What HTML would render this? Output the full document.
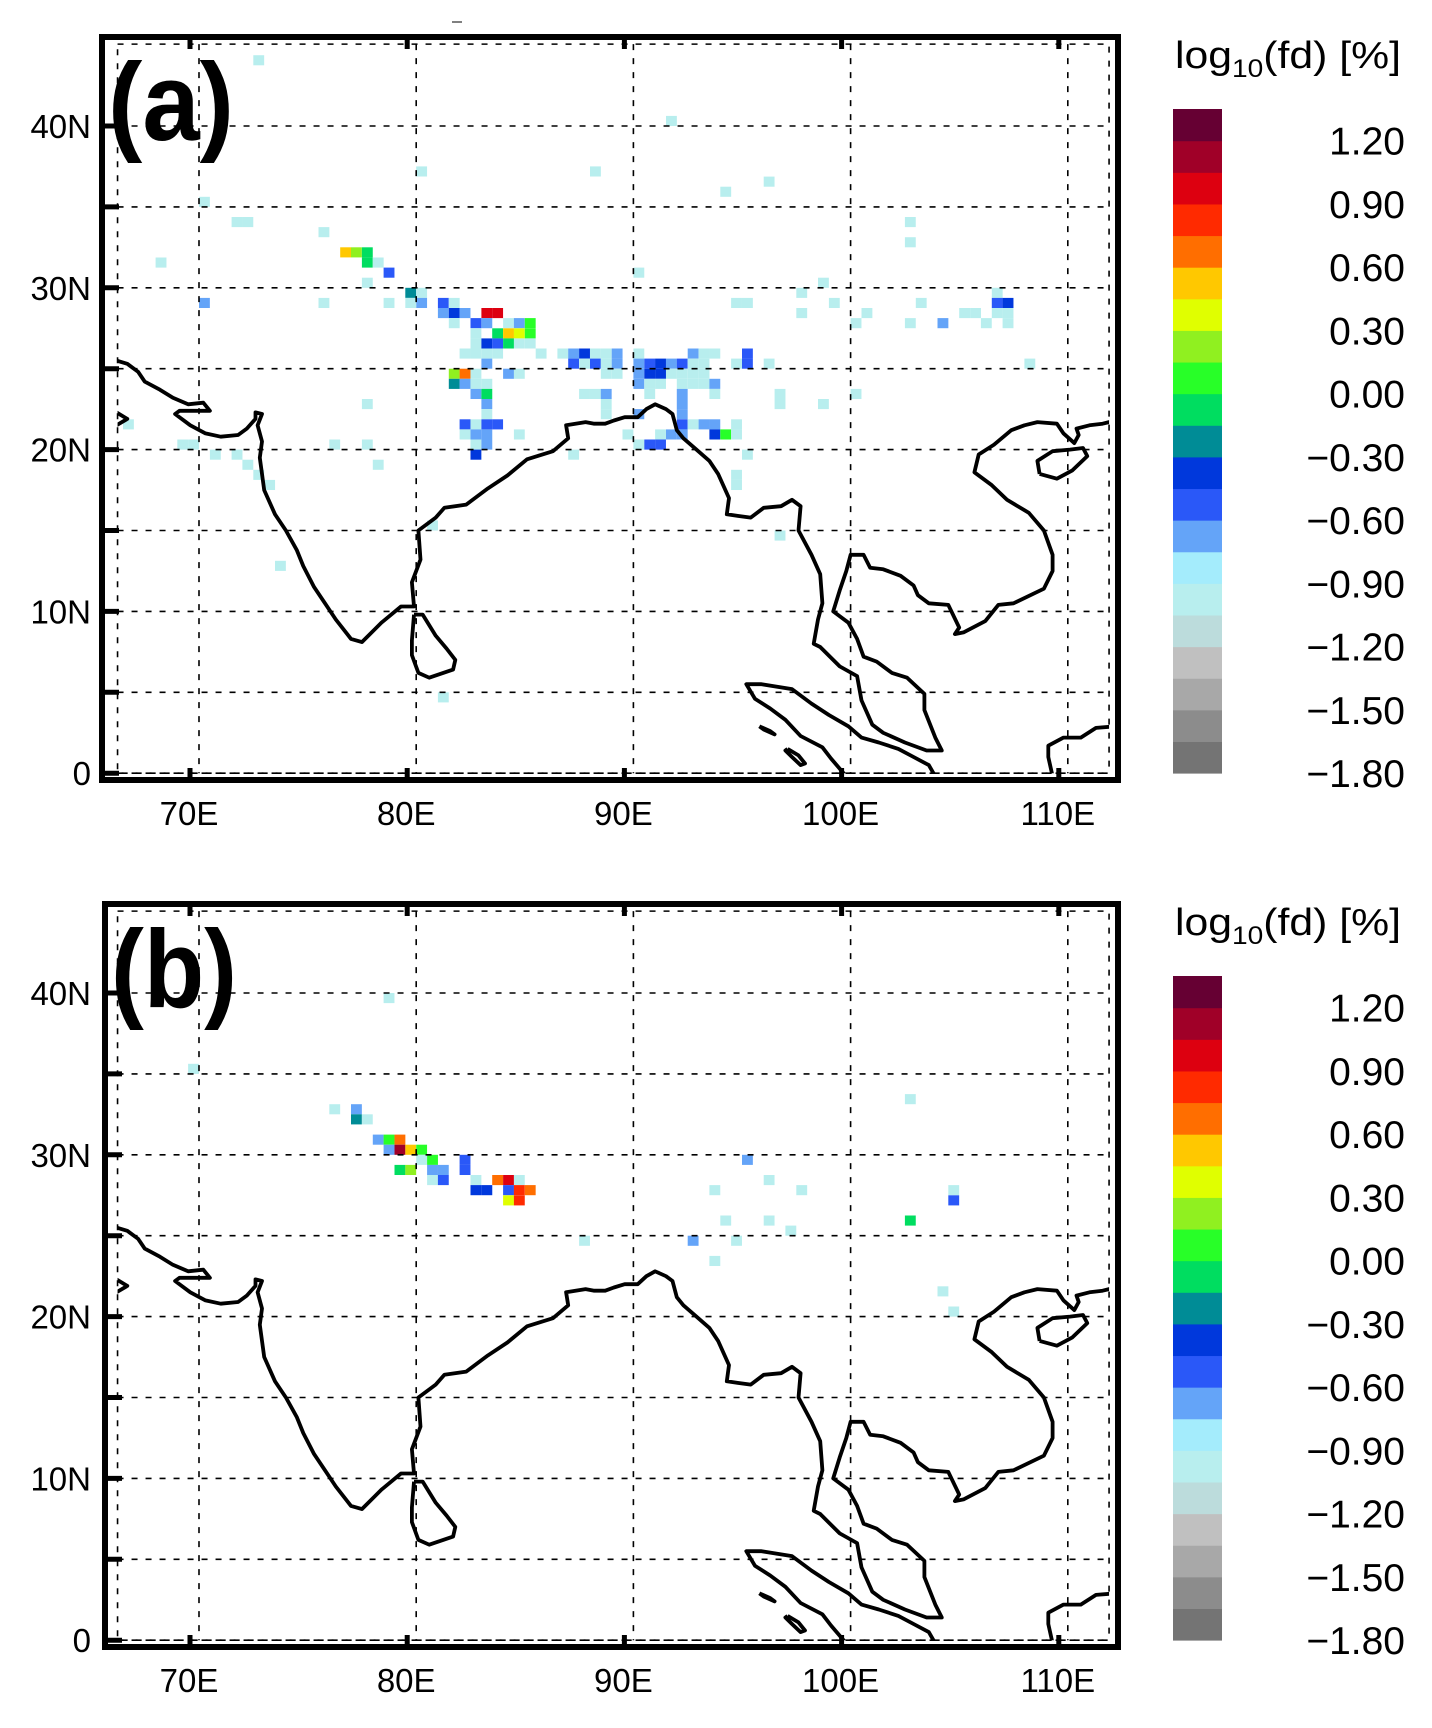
<!DOCTYPE html>
<html><head><meta charset="utf-8"><style>
html,body{margin:0;padding:0;background:#fff;}
svg{display:block;}
text{font-family:"Liberation Sans",sans-serif;fill:#000;}
</style></head><body>
<svg id="fig" width="1432" height="1728" viewBox="0 0 1432 1728" xmlns="http://www.w3.org/2000/svg">
<rect x="0" y="0" width="1432" height="1728" fill="#fff"/>
<line x1="452" y1="22" x2="462" y2="22" stroke="#555" stroke-width="1.5"/>
</svg>
<script>
// colour scale: bin lower bounds from -1.80 step 0.15, 21 bins (bottom -> top)
const binColors = ["#747474","#8c8c8c","#a8a8a8","#c0c0c0","#bcdcdc","#b8eeee","#a4ecfc","#64a4f8","#2a58f8","#0038dc","#008c96","#00dd60","#28ff28","#90f020","#e0ff00","#ffc800","#ff6e00","#ff2a00","#dd0010","#a00028","#660033"];
const cbTickLabels = ["1.20","0.90","0.60","0.30","0.00","\u22120.30","\u22120.60","\u22120.90","\u22121.20","\u22121.50","\u22121.80"];
const lonTicks = [70,80,90,100,110];
const lonTickLabels = ["70E","80E","90E","100E","110E"];
const latTicks = [0,10,20,30,40];
const latTickLabels = ["0","10N","20N","30N","40N"];

// panel (a) cells: lower-left lon, lower-left lat, log10(fd)
const aLon = [72.5,80,91.5,88,94,96,70,71.5,72,75.5,68,76.5,77,77.5,77.5,78,78.5,77.5,79.5,80,80,79.5,78.5,75.5,70,90,94.5,95,77.5,66.5,69,69.5,70.5,71.5,72,72.5,73,76,77.5,78,73.5,80.5,81,96.5,94.5,95,87,
81,81.5,81,81.5,82,83,83.5,81.5,82.5,83,84,84.5,85,82.5,83.5,84,84.5,85,82.5,83,83.5,84,84.5,85,82,82.5,83,83.5,85.5,86.5,87,87.5,88,88.5,89,90,92.5,93,93.5,95,
83,87,87.5,88,88.5,89,90,90.5,91,91.5,92,92.5,93,94.5,95,96,81.5,82,82.5,84,84.5,88.5,89,90,90.5,91,91.5,92,92.5,93,81.5,82,82.5,83,90,90.5,91,92,92.5,93,93.5,
82.5,83,87.5,88,88.5,90.5,92,93.5,83,88.5,92,83,88.5,90,92,82,82.5,83,83.5,92,92.5,93,93.5,94.5,82,82.5,83,84.5,89.5,91,91.5,92,93.5,94,94.5,82.5,83,90,90.5,91,82.5,96.5,96.5,98.5,94.5,
102.5,102.5,98.5,97.5,99,97.5,100,100.5,102.5,103,104,105,105.5,106,106.5,106.5,107,106.5,107,107,108,100];
const aLat = [43.75,36.875,40,36.875,35.625,36.25,35,33.75,33.75,33.125,31.25,31.875,31.875,31.875,31.25,31.25,30.625,30,29.375,29.375,28.75,28.75,28.75,28.75,28.75,30.625,28.75,28.75,22.5,21.25,20,20,19.375,19.375,18.75,18.125,17.5,20,20,18.75,12.5,15,4.375,14.375,18.125,19.375,19.375,
28.75,28.75,28.125,28.125,28.125,28.125,28.125,27.5,27.5,27.5,27.5,27.5,27.5,26.875,26.875,26.875,26.875,26.875,26.25,26.25,26.25,26.25,26.25,26.25,25.625,25.625,25.625,25.625,25.625,25.625,25.625,25.625,25.625,25.625,25.625,25.625,25.625,25.625,25.625,25.625,
25,25,25,25,25,25,25,25,25,25,25,25,25,25,25,25,24.375,24.375,24.375,24.375,24.375,24.375,24.375,24.375,24.375,24.375,24.375,24.375,24.375,24.375,23.75,23.75,23.75,23.75,23.75,23.75,23.75,23.75,23.75,23.75,23.75,
23.125,23.125,23.125,23.125,23.125,23.125,23.125,23.125,22.5,22.5,22.5,21.875,21.875,21.875,21.875,21.25,21.25,21.25,21.25,21.25,21.25,21.25,21.25,21.25,20.625,20.625,20.625,20.625,20.625,20.625,20.625,20.625,20.625,20.625,20.625,20,20,20,20,20,19.375,22.5,23.125,22.5,17.5,
33.75,32.5,30,29.375,28.75,28.125,27.5,28.125,27.5,28.75,27.5,28.125,28.125,27.5,29.375,28.75,28.75,28.125,28.125,27.5,25,23.125];
const aVal = [-0.975,-0.975,-0.975,-0.975,-0.975,-0.975,-0.975,-0.975,-0.975,-0.975,-0.975,0.525,0.225,-0.075,-0.075,-0.975,-0.525,-0.975,-0.225,-0.975,-0.675,-0.975,-0.975,-0.975,-0.675,-0.975,-0.975,-0.975,-0.975,-0.975,-0.975,-0.975,-0.975,-0.975,-0.975,-0.975,-0.975,-0.975,-0.975,-0.975,-0.975,-0.975,-0.975,-0.975,-0.975,-0.975,-0.975,
-0.525,-0.975,-0.675,-0.375,-0.675,0.975,0.975,-0.975,-0.525,-0.675,-0.975,-0.675,0.075,-0.975,-0.075,0.525,0.375,0.075,-0.975,-0.375,-0.525,-0.075,-0.975,-0.975,-0.975,-0.975,-0.975,-0.975,-0.975,-0.975,-0.675,-0.375,-0.975,-0.975,-0.675,-0.975,-0.675,-0.975,-0.975,-0.525,
-0.675,-0.525,-0.975,-0.525,-0.975,-0.675,-0.675,-0.525,-0.375,-0.675,-0.525,-0.975,-0.975,-0.975,-0.525,-0.975,0.225,0.675,-0.975,-0.675,-0.975,-0.975,-0.975,-0.675,-0.375,-0.375,-0.975,-0.975,-0.975,-0.975,-0.225,-0.675,-0.975,-0.975,-0.675,-0.975,-0.975,-0.975,-0.975,-0.975,-0.675,
-0.675,-0.075,-0.975,-0.975,-0.675,-0.975,-0.675,-0.975,-0.675,-0.975,-0.675,-0.975,-0.975,-0.675,-0.675,-0.525,-0.975,-0.525,-0.525,-0.525,-0.975,-0.675,-0.675,-0.975,-0.975,-0.675,-0.675,-0.975,-0.975,-0.975,-0.675,-0.675,-0.375,0.075,-0.975,-0.975,-0.675,-0.975,-0.525,-0.525,-0.375,-0.975,-0.975,-0.975,-0.975,
-0.975,-0.975,-0.975,-0.975,-0.975,-0.975,-0.975,-0.975,-0.975,-0.975,-0.675,-0.975,-0.975,-0.975,-0.975,-0.525,-0.375,-0.975,-0.975,-0.975,-0.975,-0.975];

// panel (b) cells
const bLon = [78.5,69.5,76,77,77,77.5,78,78.5,79,78.5,79,79.5,80,80,80.5,82,79,79.5,80.5,81,82,80.5,81,82.5,83.5,84,84.5,82.5,83,84,84.5,85,84,84.5,87.5,102.5,95,96,93.5,97.5,94,96,97,92.5,94.5,93.5,102.5,104.5,104.5,104,104.5];
const bLat = [39.375,35,32.5,32.5,31.875,31.875,30.625,30.625,30.625,30,30,30,30,29.375,29.375,29.375,28.75,28.75,28.75,28.75,28.75,28.125,28.125,28.125,28.125,28.125,28.125,27.5,27.5,27.5,27.5,27.5,26.875,26.875,24.375,33.125,29.375,28.125,27.5,27.5,25.625,25.625,25,24.375,24.375,23.125,25.625,27.5,26.875,21.25,20];
const bVal = [-0.975,-0.975,-0.975,-0.675,-0.225,-0.975,-0.675,0.075,0.675,-0.675,1.125,0.525,0.075,-0.975,0.075,-0.525,-0.075,0.225,-0.675,-0.675,-0.525,-0.975,-0.525,-0.975,0.675,0.975,-0.975,-0.375,-0.375,-0.525,0.825,0.675,0.375,0.825,-0.975,-0.975,-0.675,-0.975,-0.975,-0.975,-0.975,-0.975,-0.975,-0.675,-0.975,-0.975,-0.075,-0.975,-0.525,-0.975,-0.975];

// coastlines (lon,lat)
const coastMain = [[66.2,25.5],[66.7,25.3],[67.2,24.8],[67.5,24.2],[68.2,23.7],[68.8,23.2],[69.5,22.8],[70.2,22.9],[70.5,22.4],[69.8,22.4],[69.1,22.4],[68.9,22.2],[69.6,21.5],[70.3,21],[71,20.8],[71.8,20.9],[72.2,21.3],[72.6,21.9],[72.6,22.3],[72.9,22.2],[72.7,21.5],[72.9,20.5],[72.8,19.5],[73,17.5],[73.5,16],[74,15],[74.5,13.8],[74.8,12.8],[75.3,11.5],[75.8,10.5],[76.3,9.5],[77,8.3],[77.5,8.1],[78.1,8.9],[78.4,9.3],[79.3,10.3],[79.9,10.3],[79.8,11.8],[80.2,13.2],[80.1,15],[80.9,15.8],[81.3,16.4],[82.3,16.6],[83.3,17.6],[84.2,18.4],[85.1,19.4],[86.3,19.9],[87,20.7],[86.9,21.5],[87.8,21.7],[88.2,21.6],[88.7,21.6],[89.1,21.8],[89.6,22],[90.2,22],[90.6,22.5],[91,22.8],[91.5,22.5],[91.8,22.2],[92,21.2],[92.3,20.7],[92.9,20],[93.5,19.3],[93.9,18.5],[94.4,17],[94.3,16],[94.8,15.9],[95.4,15.8],[96,16.4],[96.8,16.5],[97.3,16.9],[97.7,16.5],[97.6,15],[98.2,13.5],[98.6,12.3],[98.7,10.5],[98.5,9.5],[98.3,8],[98.6,7.8],[99.5,6.6],[100.3,6],[100.5,4.5],[101,3],[101.5,2.5],[102.5,1.9],[103.5,1.4],[104.2,1.4],[103.9,2.2],[103.4,3.9],[103.4,4.9],[102.6,5.9],[101.9,6.2],[101.2,6.9],[100.6,7.2],[100.3,8.3],[99.9,9.3],[99.2,10],[99.5,11.3],[99.8,12.5],[100,13.5],[100.6,13.5],[100.9,12.7],[101.5,12.6],[102.3,12.2],[102.9,11.6],[103.1,11],[103.6,10.5],[104.5,10.4],[105,9],[104.8,8.6],[105.2,8.7],[106.2,9.4],[106.8,10.4],[107.5,10.5],[108.9,11.4],[109.3,12.5],[109.3,13.5],[108.9,15],[108.2,16.1],[107.2,16.9],[106.5,17.8],[105.7,18.6],[105.9,19.7],[106.6,20.3],[107.4,21.2],[108,21.5],[108.6,21.7],[109.5,21.6],[109.8,21.0],[110.3,20.4],[110.5,20.9],[110.4,21.3],[111,21.5],[111.6,21.6],[112.2,21.8]];
const coastHainan = [[108.7,18.5],[109.5,18.2],[110.2,18.7],[110.9,19.6],[110.7,20.1],[110.1,20],[109.3,19.9],[108.6,19.3],[108.7,18.5]];
const coastLanka = [[79.9,9.8],[80.3,9.8],[80.9,8.5],[81.4,7.7],[81.8,7],[81.7,6.4],[80.6,5.9],[80.1,6.2],[79.8,7.3],[79.8,8.2],[79.9,9.8]];
const coastSumatra = [[99.8,-0.2],[99.1,0.9],[98.7,1.6],[97.7,2.3],[97,3.3],[96.3,4],[95.6,4.6],[95.2,5.5],[95.9,5.5],[97.3,5.2],[98.2,4.3],[99,3.6],[99.9,2.9],[100.5,2.2],[101.3,1.9],[102.2,1.5],[102.9,1],[103.6,0.5],[103.9,-0.2]];
const coastSimeulue = [[95.8,2.9],[96.3,2.6],[96.5,2.4],[96.0,2.7],[95.8,2.9]];
const coastNias = [[97.1,1.5],[97.6,1.1],[97.9,0.6],[97.7,0.5],[97.3,1.0],[97.0,1.4],[97.1,1.5]];
const coastBorneo = [[109.3,-0.2],[109.1,1.0],[109.1,1.7],[109.8,2.2],[110.6,2.2],[111.3,2.8],[112.2,2.9]];
const coastEdge = [[66.2,22.3],[66.7,21.9],[66.2,21.5]];

const NS = "http://www.w3.org/2000/svg";
const svg = document.getElementById("fig");
function mk(tag, attrs, parent){ const e=document.createElementNS(NS,tag); for(const k in attrs) e.setAttribute(k,attrs[k]); (parent||svg).appendChild(e); return e; }

const PX_LON = 21.72, PX_LAT = 16.18, X70 = 199;
const LON_MIN = 66.25, LON_MAX = 111.9, LAT_MIN = 0, LAT_MAX = 45.06;
function xOf(lon){ return X70 + (lon-70)*PX_LON; }
function colorOf(v){ let k=Math.floor((v+1.80)/0.15); k=Math.max(0,Math.min(20,k)); return binColors[k]; }

function drawPanel(id, base, frame, lons, lats, vals, letter){
  const yOf = lat => base + (40-lat)*PX_LAT;
  const g = mk("g",{});
  
  
  const cpId = "clip"+id;
  const cp = mk("clipPath",{id:cpId}, g);
  mk("rect",{x:xOf(LON_MIN),y:yOf(LAT_MAX),width:xOf(LON_MAX)-xOf(LON_MIN),height:yOf(LAT_MIN)-yOf(LAT_MAX)}, cp);
  const cg = mk("g",{"clip-path":"url(#"+cpId+")"}, g);
  
  
  for(let i=0;i<lons.length;i++){
    const r = mk("rect",{x:xOf(lons[i]).toFixed(1), y:yOf(lats[i]+0.625).toFixed(1), width:(0.5*PX_LON).toFixed(2), height:(0.625*PX_LAT).toFixed(2), fill:colorOf(vals[i])}, cg);
    
    
  }
  const gg = mk("g",{stroke:"#000","stroke-width":"1.6","stroke-dasharray":"6 8",fill:"none"}, g);
  
  
  for(let lon=70; lon<=110; lon+=10) mk("line",{x1:xOf(lon),x2:xOf(lon),y1:yOf(LAT_MAX),y2:yOf(LAT_MIN)}, gg);
  for(let lat=0; lat<=40; lat+=5) mk("line",{x1:xOf(LON_MIN),x2:xOf(LON_MAX),y1:yOf(lat),y2:yOf(lat)}, gg);
  mk("rect",{x:xOf(LON_MIN),y:yOf(LAT_MAX),width:xOf(LON_MAX)-xOf(LON_MIN),height:yOf(LAT_MIN)-yOf(LAT_MAX)}, gg);
  const cl = mk("g",{"clip-path":"url(#"+cpId+")",stroke:"#000","stroke-width":"3.8",fill:"none","stroke-linejoin":"round"}, g);
  
  
  [coastMain,coastHainan,coastLanka,coastSumatra,coastSimeulue,coastNias,coastBorneo,coastEdge].forEach(c=>{
    mk("path",{d:"M"+c.map(p=>xOf(p[0]).toFixed(1)+","+yOf(p[1]).toFixed(1)).join("L")}, cl);
  });
  const fr = mk("rect",{x:frame[0],y:frame[1],width:frame[2]-frame[0],height:frame[3]-frame[1],fill:"none",stroke:"#000","stroke-width":"6"}, g);
  
  
  for(let lat=0; lat<=40; lat+=5) mk("line",{x1:frame[0],x2:frame[0]+17,y1:yOf(lat),y2:yOf(lat),stroke:"#000","stroke-width":"5"}, g);
  lonTicks.forEach(lon=>{
    mk("line",{x1:xOf(lon)-9,x2:xOf(lon)-9,y1:frame[1],y2:frame[1]+12,stroke:"#000","stroke-width":"5"}, g);
    mk("line",{x1:xOf(lon)-9,x2:xOf(lon)-9,y1:frame[3],y2:frame[3]-12,stroke:"#000","stroke-width":"5"}, g);
  });
  lonTicks.forEach((lon,i)=>{
    const t = mk("text",{x:xOf(lon)-10,y:frame[3]+45,"text-anchor":"middle","font-size":"33"}, g);
    t.textContent = lonTickLabels[i];
    
    
  });
  latTicks.forEach((lat,i)=>{
    const t = mk("text",{x:91,y:yOf(lat)+12,"text-anchor":"end","font-size":"33"}, g);
    t.textContent = latTickLabels[i];
    
    
  });
  const pl = mk("text",{x:frame[0]+6,y:base+14,"font-size":"110","font-weight":"bold",textLength:"126",lengthAdjust:"spacingAndGlyphs"}, g);
  pl.textContent = letter;
  
  
  const cb = mk("g",{}, g);
  
  
  const cbTop = base-17, cbBot = base+647, cbH = (cbBot-cbTop)/21;
  for(let k=0;k<21;k++){
    const r = mk("rect",{x:1173,y:(cbBot-(k+1)*cbH).toFixed(2),width:49,height:(cbH+0.6).toFixed(2),fill:binColors[k]}, cb);
    
    
  }
  cbTickLabels.forEach((s,i)=>{
    const t = mk("text",{x:1405,y:(cbTop+cbH+i*2*cbH+14).toFixed(1),"text-anchor":"end","font-size":"39"}, cb);
    t.textContent = s;
    
    
  });
  const tt = mk("text",{x:1175,y:base-58,"font-size":"38",textLength:"226",lengthAdjust:"spacingAndGlyphs"}, cb);
  tt.innerHTML = 'log<tspan font-size="25" dy="9">10</tspan><tspan dy="-9">(fd) [%]</tspan>';
  
  
}
drawPanel("a", 126, [102,37,1118,780], aLon, aLat, aVal, "(a)");
drawPanel("b", 993, [105,904,1118,1647], bLon, bLat, bVal, "(b)");
</script>
</body></html>
